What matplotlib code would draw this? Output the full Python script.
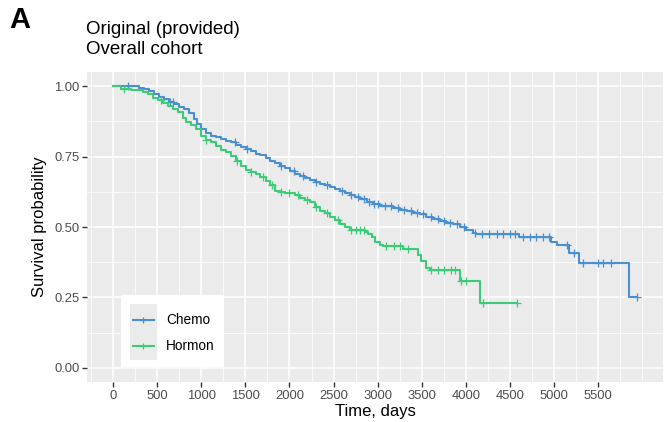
import numpy as np
import matplotlib.pyplot as plt
from matplotlib.patches import Rectangle
from matplotlib.ticker import MultipleLocator

plt.rcParams['font.family'] = ['Liberation Sans', 'DejaVu Sans']

# Kaplan-Meier estimates (step times in days, survival)
chemo_time = [0, 297, 354, 410, 467, 523, 580, 636, 693, 749, 806, 862, 918,
              956, 994, 1050, 1107, 1163, 1220, 1276, 1333, 1389, 1445, 1502,
              1558, 1615, 1671, 1728, 1784, 1840, 1897, 1954, 2010, 2067, 2123,
              2180, 2236, 2293, 2349, 2405, 2462, 2518, 2575, 2631, 2688, 2744,
              2801, 2876, 2951, 3027, 3102, 3177, 3252, 3328, 3403, 3478, 3554,
              3629, 3704, 3780, 3855, 3930, 4005, 4081, 4118, 4607, 4970, 5040,
              5170, 5285, 5850, 5940]
chemo_surv = [1.0, 0.994, 0.988, 0.982, 0.971, 0.962, 0.953, 0.945, 0.935,
              0.927, 0.918, 0.906, 0.883, 0.865, 0.848, 0.833, 0.824, 0.818,
              0.812, 0.806, 0.800, 0.792, 0.784, 0.777, 0.768, 0.760, 0.754,
              0.744, 0.734, 0.726, 0.718, 0.708, 0.698, 0.689, 0.680, 0.673,
              0.666, 0.660, 0.654, 0.648, 0.642, 0.634, 0.627, 0.620, 0.613,
              0.607, 0.598, 0.589, 0.583, 0.576, 0.573, 0.569, 0.562, 0.556,
              0.550, 0.545, 0.534, 0.527, 0.521, 0.515, 0.509, 0.501, 0.489,
              0.480, 0.475, 0.465, 0.447, 0.437, 0.408, 0.373, 0.25, 0.25]
chemo_censor = [170, 640, 680, 1380, 1520, 1900, 2050, 2150, 2300, 2420, 2600,
                2700, 2780, 2850, 2900, 2960, 3000, 3080, 3150, 3230, 3300, 3380,
                3450, 3520, 3600, 3680, 3750, 3820, 3900, 3980, 4100, 4180, 4260,
                4350, 4420, 4500, 4560, 4650, 4730, 4800, 4880, 4940, 5150, 5230,
                5330, 5500, 5560, 5650, 5940]

hormon_time = [0, 90, 203, 335, 392, 448, 505, 561, 618, 674, 731, 787, 824,
               881, 937, 994, 1050, 1107, 1163, 1220, 1276, 1333, 1389, 1445,
               1502, 1558, 1615, 1671, 1728, 1784, 1841, 1897, 1954, 2010, 2067,
               2123, 2180, 2236, 2293, 2349, 2405, 2462, 2518, 2575, 2631, 2688,
               2857, 2895, 2933, 2970, 3027, 3064, 3290, 3459, 3497, 3554, 3591,
               3930, 4156, 4585]
hormon_surv = [1.0, 0.991, 0.986, 0.980, 0.971, 0.959, 0.951, 0.941, 0.930,
               0.918, 0.908, 0.888, 0.871, 0.862, 0.848, 0.824, 0.810, 0.800,
               0.789, 0.775, 0.765, 0.752, 0.735, 0.718, 0.701, 0.695, 0.689,
               0.677, 0.665, 0.648, 0.628, 0.624, 0.621, 0.619, 0.613, 0.604,
               0.597, 0.589, 0.572, 0.557, 0.548, 0.534, 0.525, 0.511, 0.499,
               0.489, 0.483, 0.475, 0.466, 0.448, 0.437, 0.433, 0.421, 0.401,
               0.378, 0.355, 0.349, 0.307, 0.231, 0.231]
hormon_censor = [125, 540, 1050, 1400, 1560, 1700, 1800, 1900, 2000, 2100, 2200,
                 2300, 2420, 2550, 2700, 2760, 2800, 2850, 3100, 3180, 3250,
                 3350, 3600, 3680, 3750, 3830, 3880, 3950, 4000, 4200, 4585]

groups = ["Chemo", "Hormon"]
colors = ["#4A8FD0", "#3DCB7A"]

x_breaks = np.arange(0, 5501, 500)
y_breaks = [0.0, 0.25, 0.5, 0.75, 1.0]


def surv_at(times, surv, t):
    idx = np.searchsorted(times, t, side='right') - 1
    return np.asarray(surv)[idx]


fig = plt.figure(figsize=(6.64, 4.22), dpi=100)
ax = fig.add_axes([87 / 664, 1 - 382 / 422, 576 / 664, 310 / 422])
ax.set_facecolor('#EBEBEB')
for s in ax.spines.values():
    s.set_visible(False)

series = [(chemo_time, chemo_surv, chemo_censor),
          (hormon_time, hormon_surv, hormon_censor)]
for (t, s, c), col in zip(series, colors):
    ax.plot(t, s, drawstyle='steps-post', color=col, lw=1.5, zorder=3)
    ax.plot(c, surv_at(t, s, c), ls='none', marker='+', ms=5.5, mew=0.9,
            color=col, zorder=3)

xmax = 5940
pad = 0.05 * xmax
ax.set_xlim(-pad, xmax + pad)
ax.set_ylim(-0.05, 1.05)
ax.set_xticks(x_breaks)
ax.set_yticks(y_breaks)
ax.set_yticklabels([f"{v:.2f}" for v in y_breaks])
ax.xaxis.set_minor_locator(MultipleLocator(250))
ax.yaxis.set_minor_locator(MultipleLocator(0.125))
ax.grid(which='major', color='white', lw=1.1, zorder=0)
ax.grid(which='minor', color='white', lw=0.55, zorder=0)
ax.set_axisbelow(True)
ax.tick_params(which='major', length=3.5, width=1.0, color='#333333',
               labelcolor='#4D4D4D', labelsize=9.4, pad=2)
ax.tick_params(which='minor', length=0)

ax.set_xlabel("Time, days", fontsize=12, labelpad=2)
ax.set_ylabel("Survival probability", fontsize=12, labelpad=5)

# legend, ggplot style
tr = ax.transAxes
ax.add_patch(Rectangle((0.059, 0.048), 0.179, 0.232, transform=tr,
                       facecolor='white', edgecolor='none', zorder=5))
ax.add_patch(Rectangle((0.0747, 0.071), 0.047, 0.181, transform=tr,
                       facecolor='#EBEBEB', edgecolor='none', zorder=6))
for name, col, yy in zip(groups, colors, [0.2, 0.116]):
    ax.plot([0.08, 0.116], [yy, yy], transform=tr, color=col, lw=1.5, zorder=7)
    ax.plot([0.098], [yy], transform=tr, marker='+', ms=5, mew=0.9,
            color=col, zorder=7)
    ax.text(0.137, yy, name, transform=tr, va='center', ha='left',
            fontsize=9.8, zorder=7)

fig.text(86 / 664, 1 - 30 / 422, "Original (provided)", fontsize=13.5,
         va='center', ha='left')
fig.text(86 / 664, 1 - 50 / 422, "Overall cohort", fontsize=13.5,
         va='center', ha='left')
fig.text(9 / 664, 1 - 20 / 422, "A", fontsize=21, fontweight='bold',
         va='center', ha='left')

fig.savefig("out.png", dpi=100)
